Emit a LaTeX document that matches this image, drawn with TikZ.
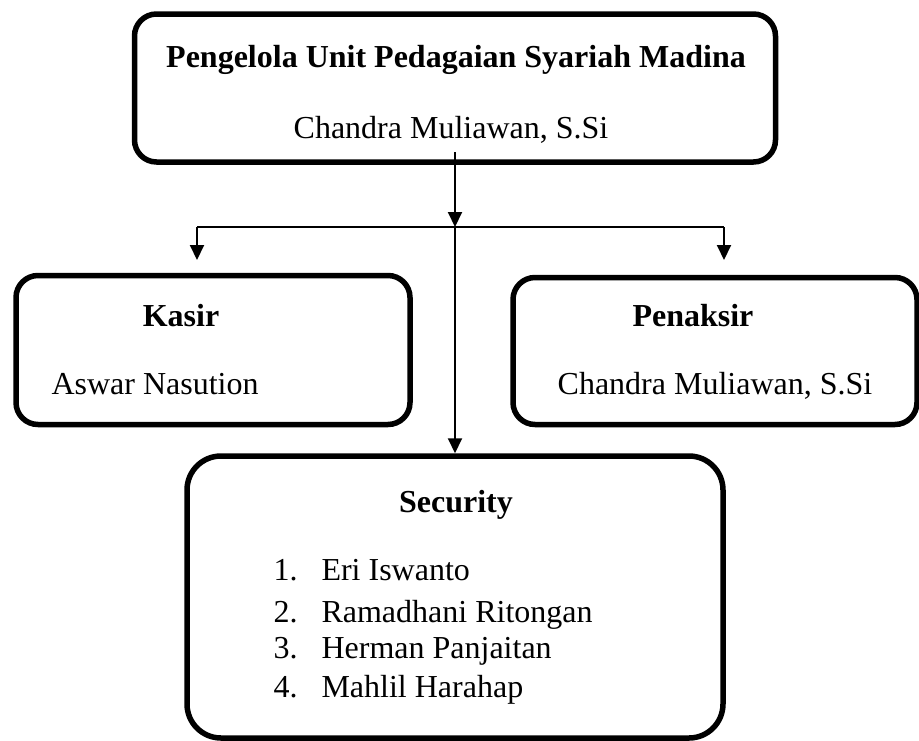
\documentclass[tikz,border=0pt]{standalone}
\usepackage{fontspec}
\setmainfont{Liberation Serif}
\usetikzlibrary{arrows.meta, positioning, calc}

\begin{document}
\begin{tikzpicture}[x=1pt, y=-1pt,
    box/.style={draw, line width=5.5pt, rounded corners=22pt, inner sep=0pt},
    link/.style={line width=2pt},
    arr/.style={link, -{Triangle[length=15pt, width=14pt]}},
    head/.style={font=\fontsize{32}{38}\selectfont\bfseries, anchor=base},
    txt/.style={font=\fontsize{32}{38}\selectfont, anchor=base}]
    \useasboundingbox (0,0) rectangle (919,740);

    % boxes
    \node[box, minimum width=641pt, minimum height=148pt] (top) at (455,88) {};
    \node[box, minimum width=394pt, minimum height=149pt] (kasir) at (213,350) {};
    \node[box, minimum width=404pt, minimum height=147pt] (penaksir) at (715,351) {};
    \node[box, rounded corners=34pt, minimum width=536pt, minimum height=282pt] (security) at (455,597) {};

    % texts
    \node[head] (topTitle) at (456,67) {Pengelola Unit Pedagaian Syariah Madina};
    \node[txt] (topName) at (451,138) {Chandra Muliawan, S.Si};
    \node[head] (kasirTitle) at (181,326) {Kasir};
    \node[txt, anchor=base west] (kasirName) at (48,394) {Aswar Nasution};
    \node[head] (penaksirTitle) at (693,326) {Penaksir};
    \node[txt] (penaksirName) at (715,394) {Chandra Muliawan, S.Si};
    \node[head] (securityTitle) at (456,512) {Security};
    \node[txt, anchor=base west] (sec1) at (270,580) {\makebox[48pt][l]{1.}Eri Iswanto};
    \node[txt, anchor=base west] (sec2) at (270,622) {\makebox[48pt][l]{2.}Ramadhani Ritongan};
    \node[txt, anchor=base west] (sec3) at (270,658) {\makebox[48pt][l]{3.}Herman Panjaitan};
    \node[txt, anchor=base west] (sec4) at (270,697) {\makebox[48pt][l]{4.}Mahlil Harahap};

    % connectors
    \coordinate (from) at (455,152);
    \coordinate (split) at (455,227);
    \coordinate (kasirIn) at (197,260);
    \coordinate (penaksirIn) at (724,260);
    \draw[arr] (from) -- (split);
    \draw[link] (kasirIn |- split) -- (penaksirIn |- split);
    \draw[arr] (kasirIn |- split) -- (kasirIn);
    \draw[arr] (penaksirIn |- split) -- (penaksirIn);
    \draw[arr] (split) -- (split |- security.north);
\end{tikzpicture}
\end{document}
